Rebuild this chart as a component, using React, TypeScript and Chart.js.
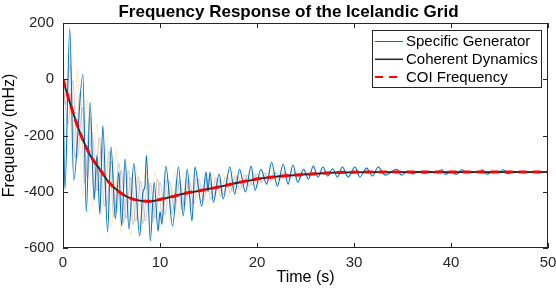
import React, { useEffect, useRef } from 'react';
import { Chart, registerables } from 'chart.js';

Chart.register(...registerables);

const TITLE = 'Frequency Response of the Icelandic Grid';
const X_TITLE = 'Time (s)';
const Y_TITLE = 'Frequency (mHz)';
const X_TICKS = [0, 10, 20, 30, 40, 50];
const Y_TICKS = [-600, -400, -200, 0, 200];
const LEGEND_LABELS = ['Specific Generator', 'Coherent Dynamics', 'COI Frequency'];

// Specific generator (blue) – peaks and troughs
const genTime = [
  0, 0.2, 0.7, 1.1, 2.05, 2.4, 2.8, 3.2, 3.5, 3.8, 4.1, 4.6, 4.95, 5.4, 5.75, 6.05, 6.4, 6.8, 7.3, 7.9, 8.25, 8.45, 8.6, 9.0,
  9.4, 9.8, 10.0, 10.2, 10.6, 11.3, 11.9, 12.4, 12.8, 13.3, 13.6, 14.3, 14.75, 14.95, 15.15, 15.5, 16.1, 16.5, 17.2, 17.7, 18.2, 18.8, 19.4, 19.8,
  20.4, 21.0, 21.5, 22.1, 22.7, 23.2, 23.7, 24.2, 24.8, 25.3, 25.8, 26.3, 26.8, 27.3, 27.8, 28.3, 28.8, 29.4, 30.1, 30.6,
  31.3, 31.9, 32.5, 33.2, 34.4, 34.9, 35.6, 36.1, 36.6, 37.3, 37.8, 38.3, 39.1, 39.4, 40.0, 40.6, 41.1, 41.6, 43.0, 43.2,
  43.7, 44.2, 45.0, 45.4, 45.8, 46.3, 50,
];
const genFreq = [
  0, -390, 180, -360, 18, -472, -82, -430, -270, -480, -165, -543, -240, -497, -330, -522, -284, -533, -300, -557, -400, -380, -270, -575,
  -366, -540, -470, -515, -309, -522, -312, -486, -320, -504, -312, -451, -330, -400, -330, -437, -337, -426, -312, -408, -320, -401, -309, -395,
  -320, -373, -295, -380, -302, -373, -305, -366, -320, -355, -309, -348, -312, -344, -318, -348, -312, -348, -312, -348,
  -316, -344, -312, -341, -320, -341, -327, -337, -327, -334, -327, -333, -322, -338, -330, -338, -322, -330, -330, -322,
  -338, -330, -330, -322, -336, -330, -330,
];

// Coherent dynamics (black)
const cohTime = [0, 0.5, 1, 1.75, 2.5, 3, 3.8, 4.7, 5.7, 6.5, 7.4, 8.8, 10.2, 11.2, 12.3, 14, 16.2, 18, 20.3, 22, 23.9, 26, 28, 32, 50];
const cohFreq = [0, -60, -115, -190, -250, -282, -320, -365, -398, -416, -428, -434, -426, -418, -408, -397, -382, -368, -353, -346, -341, -336, -332, -330, -330];

// COI frequency (red dashed)
const coiTime = [0, 0.5, 1, 1.75, 2.5, 3, 3.8, 4.7, 5.7, 6.5, 7.4, 8.8, 10.2, 11.2, 12.3, 14, 16.2, 18, 20.3, 22, 23.9, 26, 28, 32, 50];
const coiFreq = [0, -60, -115, -190, -250, -282, -320, -365, -398, -416, -428, -434, -426, -418, -408, -397, -382, -368, -353, -346, -341, -336, -332, -330, -330];

// Other generators (faint background traces)
const otherTimeAB = [
  0, 0.5, 1, 1.5, 2, 2.5, 3, 3.5, 4, 4.5, 5, 5.5, 6, 6.5, 7, 7.5, 8, 8.5, 9, 9.5,
  10, 10.5, 11, 11.5, 12, 12.5, 13, 13.5, 14, 14.5, 15, 15.5, 16, 16.5, 17, 17.5, 18, 18.5, 19, 19.5,
  20, 20.5, 21, 21.5, 22, 22.5, 23, 23.5, 24, 24.5, 25, 25.5, 26, 26.5, 27, 27.5, 28, 28.5, 29, 30, 50,
];
const otherFreqA = [
  0, 90, -315, 35, -410, -70, -452, -157, -480, -206, -526, -253, -544, -286, -553, -309, -552, -324, -544, -330,
  -527, -328, -509, -329, -490, -331, -473, -335, -456, -333, -446, -333, -435, -331, -422, -327, -408, -324, -396, -322,
  -384, -321, -377, -321, -370, -322, -363, -324, -357, -325, -350, -327, -345, -327, -341, -327, -337, -327, -334, -330, -330,
];
const otherFreqB = [
  0, -160, -5, -275, -100, -350, -187, -397, -240, -446, -291, -478, -324, -496, -348, -504, -362, -504, -369, -495,
  -367, -483, -364, -469, -360, -454, -358, -443, -356, -431, -355, -422, -353, -411, -349, -398, -344, -386, -341, -376,
  -336, -368, -333, -362, -332, -357, -331, -353, -331, -348, -330, -344, -330, -340, -330, -337, -329, -334, -329, -330, -330,
];
const otherTimeC = [
  0, 0.25, 0.75, 1.25, 1.75, 2.25, 2.75, 3.25, 3.75, 4.25, 4.75, 5.25, 5.75, 6.25, 6.75, 7.25, 7.75, 8.25, 8.75, 9.25,
  9.75, 10.25, 10.75, 11.25, 11.75, 12.25, 12.75, 13.25, 13.75, 14.25, 14.75, 15.25, 15.75, 16.25, 16.75, 17.25, 17.75, 18.25, 18.75, 19.25,
  19.75, 20.25, 20.75, 21.25, 21.75, 22.25, 22.75, 23.25, 23.75, 24.25, 24.75, 25.25, 25.75, 26.25, 27, 30, 50,
];
const otherFreqC = [
  0, -90, 52, -280, -48, -370, -136, -415, -208, -453, -256, -490, -298, -510, -325, -516, -346, -513, -356, -508,
  -355, -495, -355, -479, -354, -462, -355, -449, -354, -437, -352, -428, -350, -417, -347, -405, -342, -392, -338, -381,
  -336, -371, -334, -363, -332, -357, -333, -352, -332, -348, -331, -344, -331, -339, -334, -330, -330,
];

const FONT = '"Liberation Sans", Arial, Helvetica, sans-serif';
const AXIS_COLOR = '#262626';

const pts = (xs: number[], ys: number[]) => xs.map((x, i) => ({ x, y: ys[i] }));

const matlabPlugin = {
  id: 'matlabDecor',
  afterDraw(chart: any) {
    const { ctx, chartArea: a, scales } = chart;
    ctx.save();
    // axes box
    ctx.strokeStyle = AXIS_COLOR;
    ctx.lineWidth = 1;
    ctx.strokeRect(a.left + 0.5, a.top + 0.5, a.right - a.left - 1, a.bottom - a.top - 1);
    // inward ticks on all four sides
    const tl = 5;
    ctx.beginPath();
    X_TICKS.forEach((v) => {
      const px = Math.round(scales.x.getPixelForValue(v)) + 0.5;
      ctx.moveTo(px, a.bottom);
      ctx.lineTo(px, a.bottom - tl);
      ctx.moveTo(px, a.top);
      ctx.lineTo(px, a.top + tl);
    });
    Y_TICKS.forEach((v) => {
      const py = Math.round(scales.y.getPixelForValue(v)) + 0.5;
      ctx.moveTo(a.left, py);
      ctx.lineTo(a.left + tl, py);
      ctx.moveTo(a.right, py);
      ctx.lineTo(a.right - tl, py);
    });
    ctx.stroke();

    // legend
    const boxL = a.right - 176;
    const boxR = a.right - 6;
    const boxT = a.top + 7;
    const boxB = a.top + 65;
    ctx.fillStyle = '#ffffff';
    ctx.fillRect(boxL, boxT, boxR - boxL, boxB - boxT);
    ctx.strokeStyle = AXIS_COLOR;
    ctx.lineWidth = 1;
    ctx.strokeRect(boxL + 0.5, boxT + 0.5, boxR - boxL - 1, boxB - boxT - 1);
    const ds = chart.data.datasets;
    const entries = [ds[2], ds[1], ds[0]];
    ctx.font = `15px ${FONT}`;
    ctx.textAlign = 'left';
    ctx.textBaseline = 'middle';
    entries.forEach((d: any, i: number) => {
      const y = boxT + 11.5 + i * 17.8;
      ctx.save();
      ctx.strokeStyle = d.borderColor;
      ctx.lineWidth = d.legendWidth;
      ctx.setLineDash(d.borderDash || []);
      ctx.beginPath();
      ctx.moveTo(boxL + 3, y);
      ctx.lineTo(boxL + 31, y);
      ctx.stroke();
      ctx.restore();
      ctx.fillStyle = '#000000';
      ctx.fillText(LEGEND_LABELS[i], boxL + 34, y + 0.5);
    });

    // title
    ctx.fillStyle = '#000000';
    ctx.font = `bold 17px ${FONT}`;
    ctx.textAlign = 'center';
    ctx.textBaseline = 'alphabetic';
    ctx.fillText(TITLE, 288.5, 16.5);
    ctx.restore();
  },
};

export default function App() {
  const ref = useRef<HTMLCanvasElement | null>(null);

  useEffect(() => {
    if (!ref.current) return;
    const tickFont = { family: FONT, size: 15 };
    const titleFont = { family: FONT, size: 16 };
    const chart = new Chart(ref.current, {
      type: 'line',
      data: {
        datasets: [
          {
            label: 'COI Frequency',
            data: pts(coiTime, coiFreq),
            borderColor: '#ff0000',
            borderWidth: 3,
            borderDash: [8, 6],
            legendWidth: 2,
            pointRadius: 0,
            cubicInterpolationMode: 'monotone',
          } as any,
          {
            label: 'Coherent Dynamics',
            data: pts(cohTime, cohFreq),
            borderColor: '#262626',
            borderWidth: 1.8,
            legendWidth: 1.5,
            pointRadius: 0,
            cubicInterpolationMode: 'monotone',
          } as any,
          {
            label: 'Specific Generator',
            data: pts(genTime, genFreq),
            borderColor: '#0072BD',
            borderWidth: 1.1,
            legendWidth: 1,
            pointRadius: 0,
            cubicInterpolationMode: 'monotone',
          } as any,
          {
            label: 'Generator A',
            data: pts(otherTimeAB, otherFreqA),
            borderColor: 'rgba(237,177,32,0.22)',
            borderWidth: 1,
            pointRadius: 0,
            cubicInterpolationMode: 'monotone',
          } as any,
          {
            label: 'Generator B',
            data: pts(otherTimeAB, otherFreqB),
            borderColor: 'rgba(126,47,142,0.28)',
            borderWidth: 1,
            pointRadius: 0,
            cubicInterpolationMode: 'monotone',
          } as any,
          {
            label: 'Generator C',
            data: pts(otherTimeC, otherFreqC),
            borderColor: 'rgba(120,110,90,0.32)',
            borderWidth: 1,
            pointRadius: 0,
            cubicInterpolationMode: 'monotone',
          } as any,
        ],
      },
      options: {
        animation: false,
        responsive: false,
        maintainAspectRatio: false,
        layout: { padding: { top: 23, right: 8, left: 0, bottom: 0 } },
        plugins: {
          legend: { display: false },
          title: { display: false },
          tooltip: { enabled: false },
        },
        scales: {
          x: {
            type: 'linear',
            min: 0,
            max: 50,
            grid: { display: false, drawTicks: false },
            border: { display: false },
            ticks: { stepSize: 10, padding: 6, color: AXIS_COLOR, font: tickFont, maxRotation: 0, autoSkip: false },
            title: { display: true, text: X_TITLE, color: '#000000', font: titleFont, padding: { top: 0, bottom: 1 } },
            afterFit: (s: any) => {
              s.height = 40;
              s.paddingLeft = 0;
              s.paddingRight = 0;
            },
          },
          y: {
            type: 'linear',
            min: -600,
            max: 200,
            grid: { display: false, drawTicks: false },
            border: { display: false },
            ticks: { stepSize: 200, padding: 9, color: AXIS_COLOR, font: tickFont, autoSkip: false },
            title: { display: true, text: Y_TITLE, color: '#000000', font: titleFont, padding: { top: 0, bottom: 0 } },
            afterFit: (s: any) => {
              s.width = 63;
              s.paddingTop = 0;
              s.paddingBottom = 0;
            },
          },
        },
      } as any,
      plugins: [matlabPlugin],
    });
    return () => chart.destroy();
  }, []);

  return (
    <div style={{ position: 'fixed', left: 0, top: 0, width: 556, height: 288, background: '#ffffff' }}>
      <canvas ref={ref} width={556} height={288} style={{ display: 'block' }} />
    </div>
  );
}
